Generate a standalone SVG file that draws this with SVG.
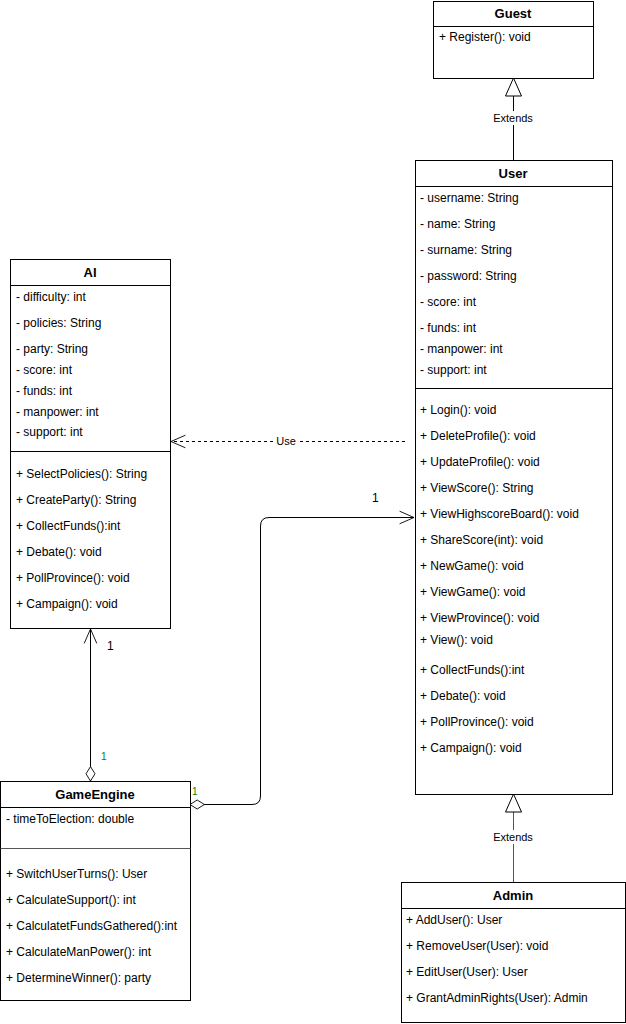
<svg xmlns="http://www.w3.org/2000/svg" width="626" height="1024" viewBox="0 0 626 1024">
<defs>
<style>
.box{fill:#fff;stroke:#000;stroke-width:1}
.div{stroke:#000;stroke-width:1}
text{font-family:"Liberation Sans",Arial,sans-serif;font-size:12px;fill:#000}
.t{font-weight:bold;font-size:13px;text-anchor:middle}
.lbl{font-size:11px;text-anchor:middle}
.sm{font-size:10px;fill:#008800}
.ln{fill:none;stroke:#000;stroke-width:1}
</style>
<marker id="open" viewBox="0 0 20 20" refX="18" refY="10" markerWidth="18" markerHeight="18" markerUnits="userSpaceOnUse" orient="auto">
<path d="M2,3 L18,10 L2,17" fill="none" stroke="#000" stroke-width="1"/>
</marker>
<marker id="tri" viewBox="0 0 20 20" refX="19" refY="10" markerWidth="20" markerHeight="20" markerUnits="userSpaceOnUse" orient="auto">
<path d="M1,2 L19,10 L1,18 Z" fill="#fff" stroke="#000" stroke-width="1"/>
</marker>
<marker id="dia" viewBox="0 0 20 20" refX="1" refY="10" markerWidth="18" markerHeight="18" markerUnits="userSpaceOnUse" orient="auto">
<path d="M1,10 L9,5 L17,10 L9,15 Z" fill="#fff" stroke="#000" stroke-width="1"/>
</marker>
</defs>
<rect width="626" height="1024" fill="#fff"/>

<g id="connectors">
<line class="ln" x1="513.5" y1="160" x2="513.5" y2="78" marker-end="url(#tri)"/>
<rect x="488" y="111" width="52" height="14" fill="#fff"/>
<text class="lbl" x="513" y="122">Extends</text>

<line x1="513.5" y1="882" x2="513.5" y2="794" stroke="#555" stroke-width="1" marker-end="url(#tri)"/>
<rect x="488" y="830" width="52" height="14" fill="#fff"/>
<text class="lbl" x="513" y="841">Extends</text>

<line class="ln" x1="405" y1="441.5" x2="171" y2="441.5" stroke-dasharray="3,3" marker-end="url(#open)"/>
<rect x="274" y="435" width="24" height="12" fill="#fff"/>
<text class="lbl" x="286" y="445">Use</text>

<path class="ln" d="M90.5,781 L90.5,629" marker-start="url(#dia)" marker-end="url(#open)"/>
<text x="107" y="650">1</text>
<text class="sm" x="101" y="760">1</text>

<path class="ln" d="M190,804.5 L252,804.5 Q260.5,804.5 260.5,796 L260.5,526 Q260.5,517.5 269,517.5 L414,517.5" marker-start="url(#dia)" marker-end="url(#open)"/>
<text x="372" y="502">1</text>
<text class="sm" x="192" y="795">1</text>
</g>

<g id="Guest">
<rect class="box" x="433.5" y="1.5" width="160" height="77"/>
<line class="div" x1="433.5" y1="26.5" x2="593.5" y2="26.5"/>
<text class="t" x="513" y="18">Guest</text>
<text x="439" y="41">+ Register(): void</text>
</g>

<g id="User">
<rect class="box" x="415.5" y="160.5" width="197" height="634"/>
<line class="div" x1="415.5" y1="186.5" x2="612.5" y2="186.5"/>
<line class="div" x1="415.5" y1="388.5" x2="612.5" y2="388.5"/>
<text class="t" x="513" y="178">User</text>
<text x="420" y="202">- username: String</text>
<text x="420" y="228">- name: String</text>
<text x="420" y="254">- surname: String</text>
<text x="420" y="280">- password: String</text>
<text x="420" y="306">- score: int</text>
<text x="420" y="332">- funds: int</text>
<text x="420" y="353">- manpower: int</text>
<text x="420" y="374">- support: int</text>
<text x="420" y="414">+ Login(): void</text>
<text x="420" y="440">+ DeleteProfile(): void</text>
<text x="420" y="466">+ UpdateProfile(): void</text>
<text x="420" y="492">+ ViewScore(): String</text>
<text x="420" y="518">+ ViewHighscoreBoard(): void</text>
<text x="420" y="544">+ ShareScore(int): void</text>
<text x="420" y="570">+ NewGame(): void</text>
<text x="420" y="596">+ ViewGame(): void</text>
<text x="420" y="622">+ ViewProvince(): void</text>
<text x="420" y="644">+ View(): void</text>
<text x="420" y="674">+ CollectFunds():int</text>
<text x="420" y="700">+ Debate(): void</text>
<text x="420" y="726">+ PollProvince(): void</text>
<text x="420" y="752">+ Campaign(): void</text>
</g>

<g id="AI">
<rect class="box" x="10.5" y="259.5" width="160" height="369"/>
<line class="div" x1="10.5" y1="285.5" x2="170.5" y2="285.5"/>
<line class="div" x1="10.5" y1="451.5" x2="170.5" y2="451.5"/>
<text class="t" x="90" y="277">AI</text>
<text x="16" y="301">- difficulty: int</text>
<text x="16" y="327">- policies: String</text>
<text x="16" y="353">- party: String</text>
<text x="16" y="374">- score: int</text>
<text x="16" y="395">- funds: int</text>
<text x="16" y="416">- manpower: int</text>
<text x="16" y="436">- support: int</text>
<text x="16" y="478">+ SelectPolicies(): String</text>
<text x="16" y="504">+ CreateParty(): String</text>
<text x="16" y="530">+ CollectFunds():int</text>
<text x="16" y="556">+ Debate(): void</text>
<text x="16" y="582">+ PollProvince(): void</text>
<text x="16" y="608">+ Campaign(): void</text>
</g>

<g id="GameEngine">
<rect class="box" x="0.5" y="781.5" width="190" height="219"/>
<line class="div" x1="0.5" y1="807.5" x2="190.5" y2="807.5"/>
<line x1="0.5" y1="848.5" x2="190.5" y2="848.5" stroke="#555" stroke-width="1"/>
<text class="t" x="95" y="799">GameEngine</text>
<text x="6" y="823">- timeToElection: double</text>
<text x="6" y="878">+ SwitchUserTurns(): User</text>
<text x="6" y="904">+ CalculateSupport(): int</text>
<text x="6" y="930">+ CalculatetFundsGathered():int</text>
<text x="6" y="956">+ CalculateManPower(): int</text>
<text x="6" y="982">+ DetermineWinner(): party</text>
</g>

<g id="Admin">
<rect class="box" x="401.5" y="882.5" width="224" height="140"/>
<line class="div" x1="401.5" y1="908.5" x2="625.5" y2="908.5"/>
<text class="t" x="513" y="900">Admin</text>
<text x="406" y="924">+ AddUser(): User</text>
<text x="406" y="950">+ RemoveUser(User): void</text>
<text x="406" y="976">+ EditUser(User): User</text>
<text x="406" y="1002">+ GrantAdminRights(User): Admin</text>
</g>
</svg>
